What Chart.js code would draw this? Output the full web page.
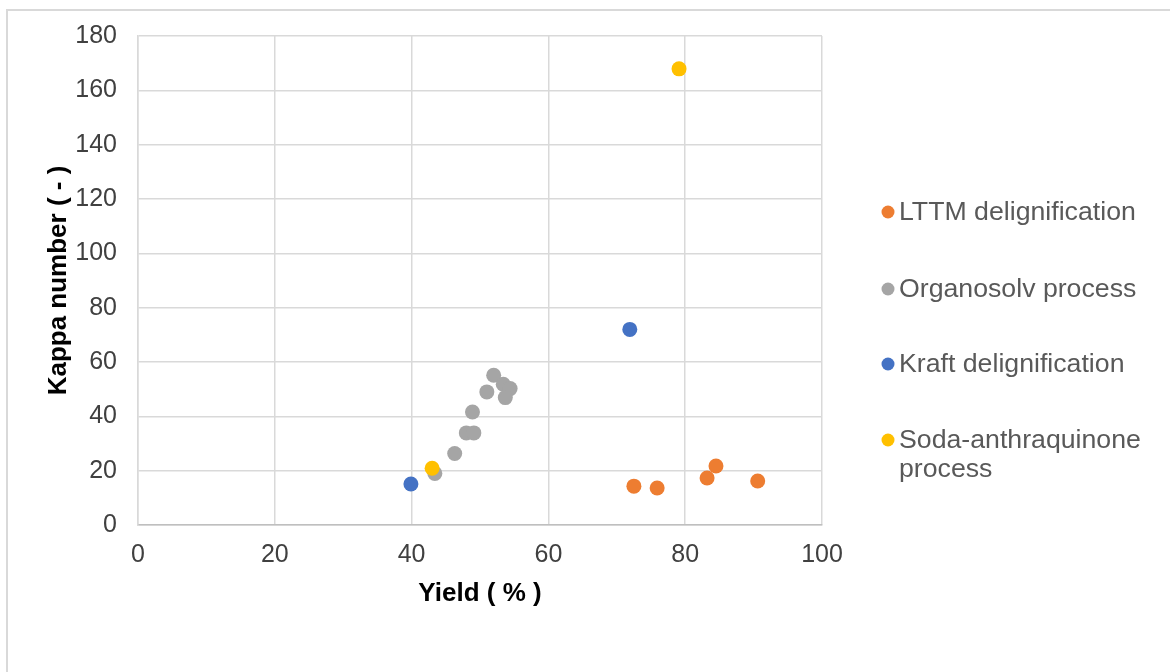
<!DOCTYPE html>
<html>
<head>
<meta charset="utf-8">
<script src="https://cdn.jsdelivr.net/npm/chart.js@4.4.1/dist/chart.umd.min.js"></script>
<style>
    body { margin: 0; background: #fff; }
    #wrap { width: 1170px; height: 672px; }
</style>
</head>
<body>
<div id="wrap"><canvas id="kappaChart" width="1170" height="672"></canvas></div>
<script>
const seriesNames = ["LTTM delignification", "Organosolv process", "Kraft delignification", "Soda-anthraquinone process"];
const seriesColors = ["#ED7D31", "#A5A5A5", "#4472C4", "#FFC000"];

const lttmYield = [72.5, 75.9, 83.2, 84.5, 90.6];
const lttmKappa = [14.3, 13.6, 17.3, 21.7, 16.2];

const organosolvYield = [52.0, 53.4, 54.4, 53.7, 51.0, 48.9, 48.0, 49.1, 46.3, 43.4];
const organosolvKappa = [55.1, 51.8, 50.2, 46.9, 49.0, 41.6, 33.9, 33.9, 26.3, 19.0];

const kraftYield = [39.9, 71.9];
const kraftKappa = [15.1, 72.0];

const sodaYield = [43.0, 79.1];
const sodaKappa = [20.9, 167.9];

const xTicks = [0, 20, 40, 60, 80, 100];
const yTicks = [0, 20, 40, 60, 80, 100, 120, 140, 160, 180];

function toPoints(xs, ys) {
    return xs.map((x, i) => ({ x: x, y: ys[i] }));
}

const allX = [lttmYield, organosolvYield, kraftYield, sodaYield];
const allY = [lttmKappa, organosolvKappa, kraftKappa, sodaKappa];

const datasets = seriesNames.map((name, i) => ({
    label: name,
    data: toPoints(allX[i], allY[i]),
    backgroundColor: seriesColors[i],
    borderColor: seriesColors[i],
    borderWidth: 0,
    pointRadius: 7.5,
    pointHoverRadius: 7.5,
    order: seriesNames.length - i   // later series on top, like the original
}));

// light frame round the chart (top + left edges are visible)
const framePlugin = {
    id: "frame",
    beforeDraw(chart) {
        const ctx = chart.ctx;
        ctx.save();
        ctx.strokeStyle = "#d9d9d9";
        ctx.lineWidth = 2;
        ctx.beginPath();
        ctx.moveTo(7, 672);
        ctx.lineTo(7, 10);
        ctx.lineTo(1170, 10);
        ctx.stroke();
        ctx.restore();
    }
};

// legend on the right, wrapped like the original
const legendPlugin = {
    id: "sideLegend",
    afterDraw(chart) {
        const ctx = chart.ctx;
        const rows = [213, 290, 365, 441];
        ctx.save();
        ctx.font = "26.7px 'Liberation Sans', Arial, sans-serif";
        ctx.textBaseline = "middle";
        ctx.textAlign = "left";
        chart.data.datasets.forEach((ds, i) => {
            const y = rows[i];
            ctx.fillStyle = ds.backgroundColor;
            ctx.beginPath();
            ctx.arc(888, y - 1, 6.5, 0, Math.PI * 2);
            ctx.fill();
            ctx.fillStyle = "#595959";
            let words = ds.label;
            if (ctx.measureText(words).width > 260) {
                const cut = words.lastIndexOf(" ");
                ctx.fillText(words.slice(0, cut), 899, y);
                ctx.fillText(words.slice(cut + 1), 899, y + 29);
            } else {
                ctx.fillText(words, 899, y);
            }
        });
        ctx.restore();
    }
};

const tickFont = { family: "'Liberation Sans', Arial, sans-serif", size: 25 };
const titleFont = { family: "'Liberation Sans', Arial, sans-serif", size: 26, weight: "bold" };

new Chart(document.getElementById("kappaChart"), {
    type: "scatter",
    data: { datasets: datasets },
    options: {
        responsive: false,
        animation: false,
        layout: { padding: { left: 0, top: 35, right: 348, bottom: 0 } },
        plugins: {
            legend: { display: false },
            tooltip: { enabled: false }
        },
        scales: {
            x: {
                type: "linear",
                min: 0,
                max: 100,
                afterBuildTicks: axis => { axis.ticks = xTicks.map(v => ({ value: v })); },
                afterFit: axis => { axis.height = 147; },
                grid: { color: "#d9d9d9", lineWidth: 1.5, drawTicks: false },
                border: { color: "#bfbfbf", width: 1.5 },
                ticks: { font: tickFont, color: "#404040", padding: 15, maxRotation: 0 },
                title: {
                    display: true,
                    text: "Yield ( % )",
                    font: titleFont,
                    color: "#000000",
                    padding: { top: 0, bottom: 63 }
                }
            },
            y: {
                type: "linear",
                min: 0,
                max: 180,
                afterBuildTicks: axis => { axis.ticks = yTicks.map(v => ({ value: v })); },
                afterFit: axis => { axis.width = 138; },
                grid: { color: "#d9d9d9", lineWidth: 1.5, drawTicks: false },
                border: { color: "#d9d9d9", width: 1.5 },
                ticks: { font: tickFont, color: "#404040", padding: 21 },
                title: {
                    display: true,
                    text: "Kappa number ( - )",
                    font: titleFont,
                    color: "#000000",
                    padding: { top: 43, bottom: 0 }
                }
            }
        }
    },
    plugins: [framePlugin, legendPlugin]
});
</script>
</body>
</html>
